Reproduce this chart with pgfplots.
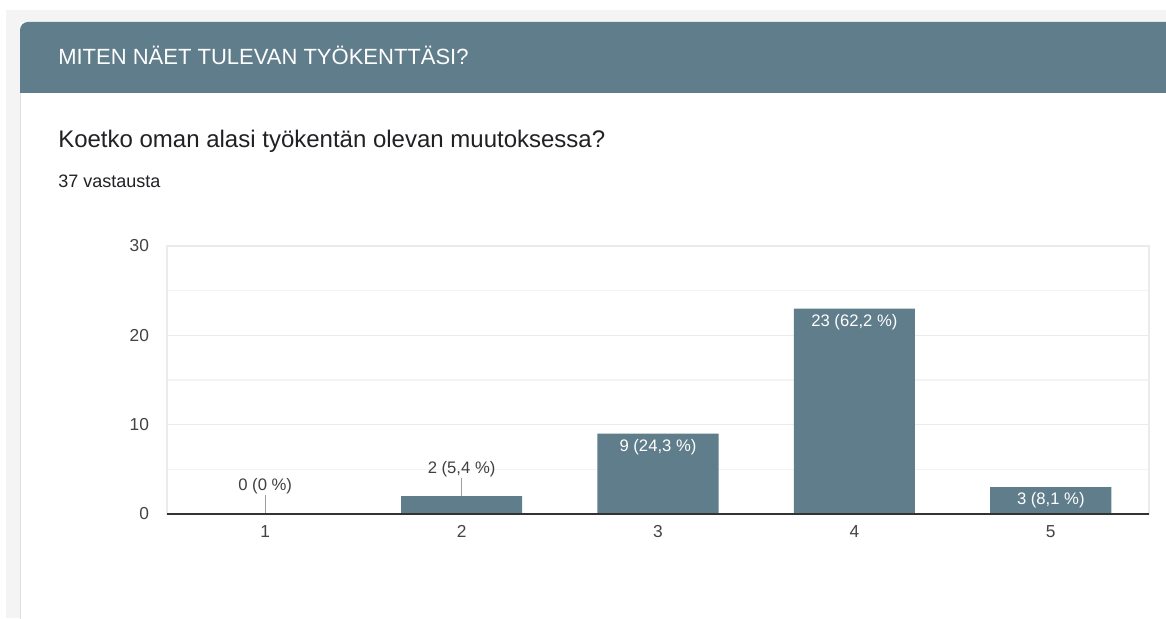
\documentclass[border=0pt]{standalone}
\usepackage{fontspec}
\setmainfont{Liberation Sans}
\usepackage{pgfplots}
\pgfplotsset{compat=1.18}
\definecolor{hdr}{HTML}{607D8B}
\definecolor{bgc}{HTML}{F4F4F4}
\definecolor{cardline}{HTML}{E0E0E0}
\definecolor{gridc}{HTML}{EBEBEB}
\definecolor{minorc}{HTML}{F3F3F3}
\definecolor{tickc}{HTML}{444444}
\definecolor{labc}{HTML}{404040}
\definecolor{leadc}{HTML}{9E9E9E}
\definecolor{axisc}{HTML}{333333}
\definecolor{titlec}{HTML}{202124}
\begin{document}
\begin{tikzpicture}[x=0.75pt,y=0.75pt]
\path[use as bounding box] (0,0) rectangle (1166,618);
% page background
\fill[white] (0,0) rectangle (1166,618);
\fill[bgc] (6,0) rectangle (1180,608);
% card
\fill[white] (20,-10) rectangle (1180,596);
\draw[cardline, line width=0.75pt] (20,-10) -- (20,530);
% header band
\fill[hdr, rounded corners=6pt] (20,525) -- (20,596) -- (1190,596) -- (1190,525) -- cycle;
\fill[hdr] (20,525) rectangle (1190,560);
\node[anchor=base west, inner sep=0pt, text=white, font=\fontsize{16.5}{19}\selectfont] at (58,553) {MITEN NÄET TULEVAN TYÖKENTTÄSI?};
\node[anchor=base west, inner sep=0pt, text=titlec, font=\fontsize{18}{21}\selectfont] at (58,470) {Koetko oman alasi työkentän olevan muutoksessa?};
\node[anchor=base west, inner sep=0pt, text=titlec, font=\fontsize{13.5}{16}\selectfont] at (58,430) {37 vastausta};
\begin{axis}[
  at={(125.25pt,78pt)}, anchor=south west,
  scale only axis, width=736.5pt, height=201pt,
  xmin=0.5, xmax=5.5, ymin=0, ymax=30,
  xtick={1,2,3,4,5}, ytick={0,10,20,30}, minor ytick={5,15,25},
  ymajorgrids, yminorgrids, xmajorgrids=false,
  major grid style={draw=gridc, line width=0.9pt},
  minor grid style={draw=minorc, line width=0.9pt},
  axis line style={draw=gridc, line width=0.9pt},
  tick style={draw=none},
  /pgf/number format/assume math mode=true,
  ticklabel style={font=\fontsize{13}{15}\selectfont, text=tickc},
  yticklabel style={xshift=-10pt},
  xticklabel style={yshift=-5pt},
]
\addplot[ycomb, draw=leadc, line width=0.8pt, mark=none,
  nodes near coords, point meta=explicit symbolic,
  every node near coord/.style={anchor=south, text=labc, inner sep=0.5pt, font=\fontsize{12.5}{14}\selectfont}]
  coordinates {(1,2.1) [0 (0 \%)] (2,4.0) [2 (5,4 \%)]};
\addplot[ybar, bar width=0.617, fill=hdr, draw=none] coordinates {(1,0) (2,2) (3,9) (4,23) (5,3)};
\addplot[draw=none, mark=none,
  nodes near coords, point meta=explicit symbolic,
  every node near coord/.style={anchor=north, text=white, inner sep=0pt, yshift=-4pt, font=\fontsize{12.5}{14}\selectfont}]
  coordinates {(3,9) [9 (24,3 \%)] (4,23) [23 (62,2 \%)] (5,3) [3 (8,1 \%)]};
\draw[axisc, line width=1.1pt] (axis cs:0.5,0) -- (axis cs:5.5,0);
\end{axis}
\end{tikzpicture}
\end{document}
